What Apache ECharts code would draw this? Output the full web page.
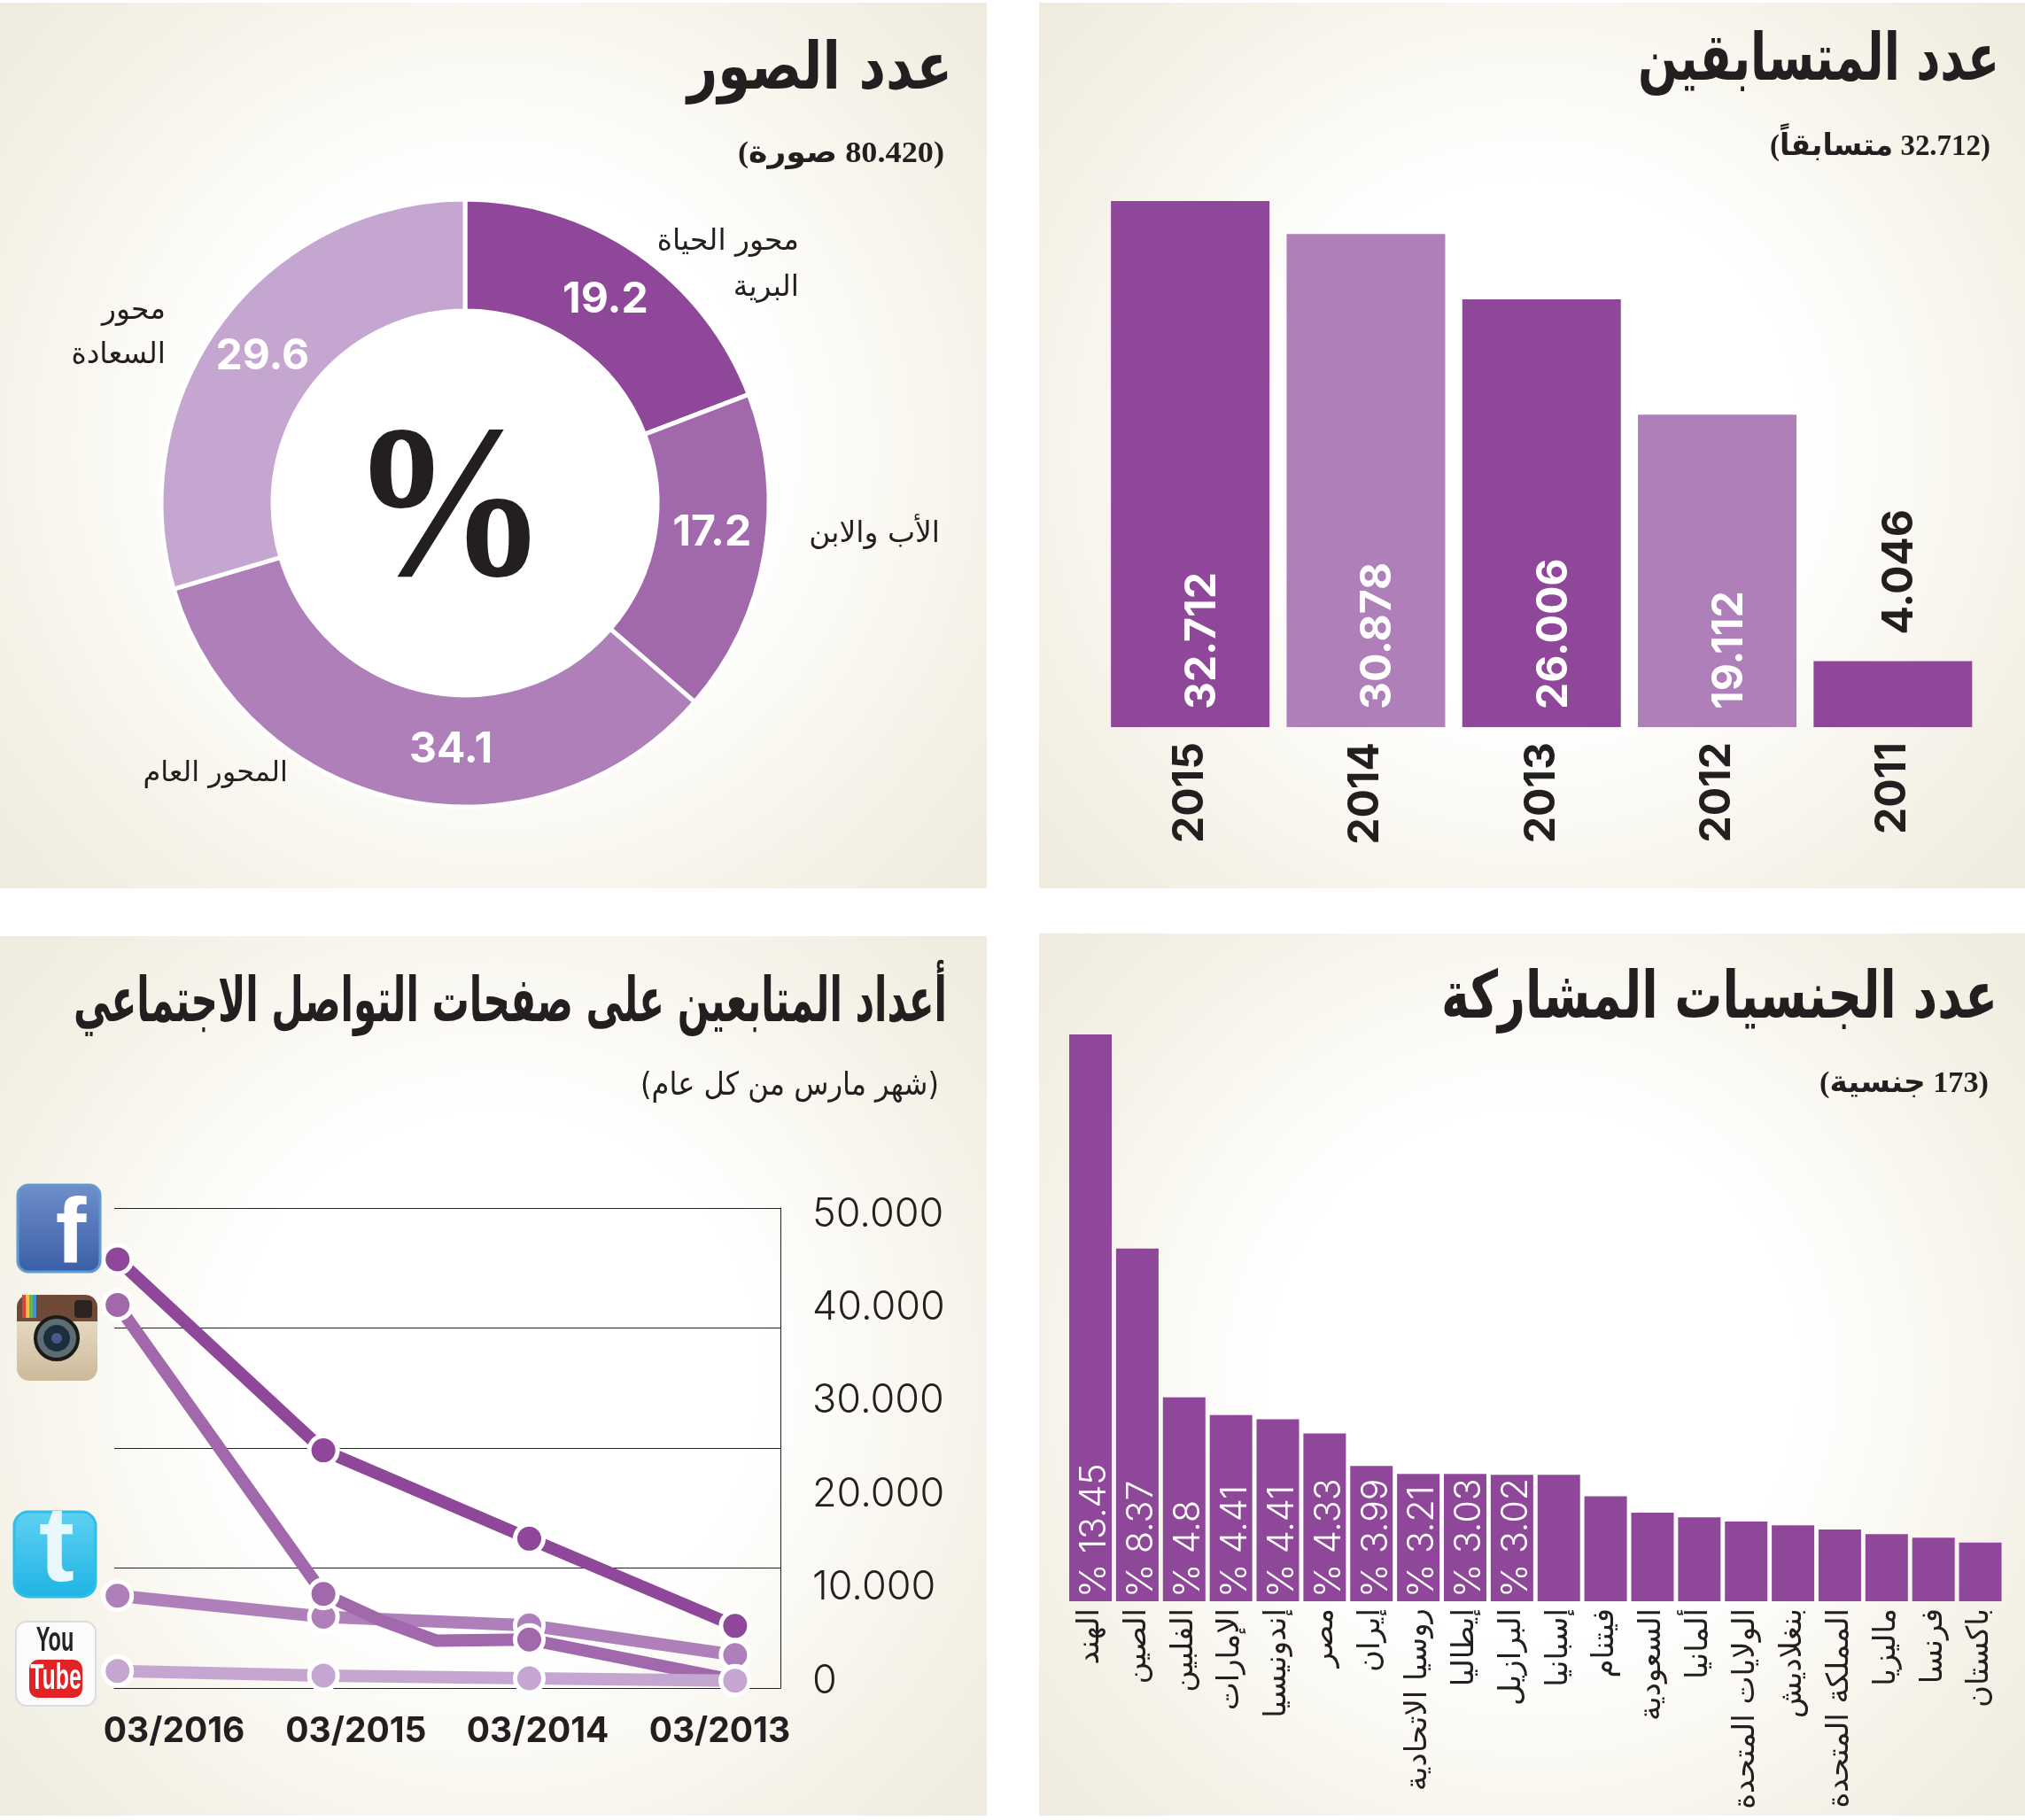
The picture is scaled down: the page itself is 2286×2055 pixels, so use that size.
<!DOCTYPE html>
<html><head><meta charset="utf-8">
<script src="https://cdn.jsdelivr.net/npm/echarts@6/dist/echarts.min.js"></script>
<style>html,body{margin:0;padding:0;background:#fff}#c{width:2286px;height:2055px}</style>
</head><body><div id="c"></div>
<script>
// ---- data ----
const years = ['2015','2014','2013','2012','2011'];
const contestantBarHeights = [32712, 30660, 26600, 19420, 4100];
const contestantLabels = ['32.712','30.878','26.006','19.112','4.046'];

const countries = ['الهند','الصين','الفلبين','الإمارات','إندونيسيا','مصر','إيران','روسيا الاتحادية','إيطاليا','البرازيل','إسبانيا','فيتنام','السعودية','ألمانيا','الولايات المتحدة','بنغلاديش','المملكة المتحدة','ماليزيا','فرنسا','باكستان'];
const countryBarHeights = [13.45,8.37,4.84,4.42,4.32,3.98,3.21,3.02,3.02,3.00,3.00,2.49,2.10,1.99,1.89,1.80,1.70,1.59,1.51,1.39];
const countryLabels = ['% 13.45','% 8.37','% 4.8','% 4.41','% 4.41','% 4.33','% 3.99','% 3.21','% 3.03','% 3.02'];

const themes = ['محور الحياة البرية','الأب والابن','المحور العام','محور السعادة'];
const themeShares = [19.2,17.2,34.1,29.6];

const monthLabels = ['03/2016','03/2015','03/2014','03/2013'];
const followerTicks = ['0','10.000','20.000','30.000','40.000','50.000'];
const xYears = [2016,2015,2014,2013];
const facebook = [44650,24760,15560,6470];
const instagram = [[2016,39900],[2015,9800],[2014.73,7130],[2014.45,4930],[2014,5050],[2013,800]];
const twitter = [9620,7420,6530,3440];
const youtube = [1780,1300,1010,770];

const P1='#8f4899',P2='#a169ab',P3='#ae7fb8',P4='#c4a6d0',INK='#231f20';
const AR='"DejaVu Sans"', NUM='Inter', SUB='"Liberation Serif","DejaVu Sans"';
const rtl = s => '\u202B'+s+'\u202C';
const mctx=document.createElement('canvas').getContext('2d');

function panel(x,y,w,h){return {type:'rect',z:-10,shape:{x,y,width:w,height:h},style:{fill:new echarts.graphic.RadialGradient(.5,.5,.72,[{offset:0,color:'#ffffff'},{offset:.42,color:'#ffffff'},{offset:.72,color:'#f7f5ec'},{offset:1,color:'#efecdf'}])},silent:true};}
function txt(x,y,s,size,weight,opt){return Object.assign({type:'text',z:10,x,y,silent:true,style:{text:s,fontFamily:AR,fontSize:size,fontWeight:weight||'normal',fill:INK,align:'right',verticalAlign:'middle'}},opt||{});}
// heading narrowed to the width it occupies in the picture
function fit(s,rightX,y,size,weight,family,targetW){
  mctx.font=weight+' '+size+'px '+family;
  const w=mctx.measureText(s).width;
  const e=txt(rightX,y,s,size,weight,{scaleX:targetW/w});
  e.style.fontFamily=family;
  return e;
}
function rr(x,y,w,h,r,fill,extra){return Object.assign({type:'rect',z:10,silent:true,shape:{x,y,width:w,height:h,r},style:{fill}},extra||{});}
const lin=(a,b)=>new echarts.graphic.LinearGradient(0,0,0,1,[{offset:0,color:a},{offset:1,color:b}]);
const icoText=(x,y,s,size,fill,sx,family)=>({type:'text',z:11,x,y,scaleX:sx||1,silent:true,style:{text:s,fontFamily:family||'"Liberation Sans"',fontWeight:'bold',fontSize:size,fill,align:'center',verticalAlign:'middle'}});

const icons=[
 // facebook
 rr(20,1338,93,98,12,'#3a5ea6',{style:{fill:lin('#6f8fcb','#3a5ea6'),stroke:'#5f9ad0',lineWidth:3}}),
 icoText(80,1396,'f',104,'#fff'),
 // instagram
 rr(19,1462,91,97,14,'#e9dcc4',{style:{fill:lin('#f0e6d2','#cdb99a')}}),
 rr(19,1462,91,30,[14,14,0,0],'#6f4a38'),
 rr(25,1462,4,26,0,'#d9443c'),rr(29,1462,4,26,0,'#efc33f'),rr(33,1462,4,26,0,'#5cb85c'),rr(37,1462,4,26,0,'#4a90d9'),
 {type:'circle',z:11,silent:true,shape:{cx:64,cy:1511,r:24},style:{fill:'#5e6c74',stroke:'#1b1b1b',lineWidth:4}},
 {type:'circle',z:12,silent:true,shape:{cx:64,cy:1511,r:15},style:{fill:'#1c2d3c'}},
 {type:'circle',z:13,silent:true,shape:{cx:64,cy:1511,r:6},style:{fill:'#4a5a8c'}},
 rr(84,1468,20,20,4,'#2c2420'),
 // twitter
 rr(16,1707,92,96,16,'#1fb4e4',{style:{fill:lin('#5fd0f2','#1fb4e4'),stroke:'#2fbfe6',lineWidth:3}}),
 icoText(64,1752,'t',120,'#e8f8fd'),
 // youtube
 rr(18,1831,90,95,12,'#fbfbfb',{style:{fill:'#fbfbfb',stroke:'#dcdcdc',lineWidth:2}}),
 icoText(62,1854,'You',38,'#222',.62),
 rr(33,1874,60,43,10,'#e32226'),
 icoText(63,1896,'Tube',40,'#fff',.62)
];

const lineSeries=(name,data,color)=>({type:'line',name,xAxisIndex:2,yAxisIndex:2,data,clip:false,symbol:'circle',symbolSize:32,showSymbol:true,
  lineStyle:{color,width:14},itemStyle:{color,borderColor:'#fff',borderWidth:5},emphasis:{disabled:true}});
const pair=a=>xYears.map((y,i)=>[y,a[i]]);

const option={
 animation:false,backgroundColor:'transparent',
 graphic:{elements:[
  panel(0,3,1114,1000),panel(1173,3,1113,1000),panel(0,1057,1114,993),panel(1173,1054,1113,996),
  fit('عدد الصور',1075,81,74,'bold',AR,299),
  fit(rtl('(80.420 صورة)'),1066,174,34,'bold',SUB,233),
  fit('عدد المتسابقين',2257,71,74,'bold',AR,408),
  fit(rtl('(32.712 متسابقاً)'),2247,166,34,'bold',SUB,249),
  fit('أعداد المتابعين على صفحات التواصل الاجتماعي',1069,1135,70,'bold',AR,986),
  fit('(شهر مارس من كل عام)',1060,1227,36,'normal',AR,337),
  fit('عدد الجنسيات المشاركة',2255,1130,74,'bold',AR,628),
  fit(rtl('(173 جنسية)'),2245,1224,34,'bold',SUB,191),
  txt(902,273,'محور الحياة',33),txt(902,325,'البرية',33),
  txt(1061,603,'الأب والابن',33),txt(325,874,'المحور العام',32),
  txt(187,351,'محور',33),txt(187,401,'السعادة',33),
  {type:'text',z:10,x:507,y:585,scaleX:.91,silent:true,style:{text:'%',fontFamily:'"Liberation Serif"',fontWeight:'bold',fontSize:246,fill:INK,align:'center',verticalAlign:'middle'}},
  ...icons
 ]},
 grid:[
  {left:1244.5,width:991.5,top:227,height:594},
  {left:1204.6,width:1057.4,top:1168,height:640},
  {left:129,width:752,top:1364,height:542},
  {left:94,width:821,top:1371,height:527}
 ],
 xAxis:[
  {gridIndex:0,type:'category',data:years,axisLine:{show:false},axisTick:{show:false},
   axisLabel:{rotate:90,margin:17,fontFamily:NUM,fontWeight:'bold',fontSize:48,color:INK,padding:[0,0,8,0]}},
  {gridIndex:1,type:'category',data:countries,axisLine:{show:false},axisTick:{show:false},
   axisLabel:{rotate:90,margin:8,interval:0,fontFamily:AR,fontSize:34,color:INK,padding:[16,0,0,0]}},
  {gridIndex:2,type:'value',inverse:true,min:2012.78,max:2016.016,axisLine:{show:true,onZero:false,lineStyle:{color:'#222',width:1}},axisTick:{show:false},axisLabel:{show:false},splitLine:{show:false}},
  {gridIndex:3,type:'category',data:monthLabels,axisLine:{show:false},axisTick:{show:false},
   axisLabel:{margin:38,interval:0,fontFamily:NUM,fontWeight:'bold',fontSize:39,color:INK}}
 ],
 yAxis:[
  {gridIndex:0,type:'value',min:0,max:32712,show:false,splitLine:{show:false}},
  {gridIndex:1,type:'value',min:0,max:13.45,show:false,splitLine:{show:false}},
  {gridIndex:2,type:'value',min:0,max:50000,interval:12500,position:'right',axisLine:{show:true,lineStyle:{color:'#222',width:1}},axisTick:{show:false},axisLabel:{show:false},splitLine:{show:true,lineStyle:{color:'#222',width:1}}},
  {gridIndex:3,type:'value',min:0,max:50000,interval:10000,position:'right',axisLine:{show:false},axisTick:{show:false},splitLine:{show:false},
   axisLabel:{margin:2,align:'left',fontFamily:NUM,fontWeight:300,fontSize:45,color:INK,formatter:(v)=>followerTicks[v/10000]}}
 ],
 series:[
  {type:'bar',xAxisIndex:0,yAxisIndex:0,barWidth:179,silent:true,
   data:contestantBarHeights.map((v,i)=>({value:v,itemStyle:{color:i%2?P3:P1},
     label:i<4?{}:{position:'top',distance:30,color:INK,offset:[0,8]}})),
   label:{show:true,position:'insideBottom',distance:20,rotate:90,align:'left',verticalAlign:'middle',offset:[0,14],fontFamily:NUM,fontWeight:'bold',fontSize:48,color:'#fff',
     formatter:p=>contestantLabels[p.dataIndex]}},
  {type:'bar',xAxisIndex:1,yAxisIndex:1,barWidth:48,silent:true,itemStyle:{color:P1},data:countryBarHeights,
   label:{show:true,position:'insideBottom',distance:4,rotate:90,align:'left',verticalAlign:'middle',offset:[0,5],fontFamily:NUM,fontWeight:300,fontSize:41,color:'#fff',
     formatter:p=>countryLabels[p.dataIndex]||''}},
  {type:'pie',center:[525,568],radius:[217,343],startAngle:90,clockwise:true,silent:true,
   itemStyle:{borderColor:'#fff',borderWidth:5},
   label:{show:true,position:'inside',fontFamily:NUM,fontWeight:'bold',fontSize:48,color:'#fff',formatter:p=>p.value},
   labelLine:{show:false},
   data:themes.map((n,i)=>({name:n,value:themeShares[i],itemStyle:{color:[P1,P2,P3,P4][i]},
     label:[{offset:[-2,4]},{offset:[0,-15]},{offset:[44,2]},{offset:[-2,4]}][i]}))},
  lineSeries('Twitter',pair(twitter),P3),
  lineSeries('Instagram',instagram.map((d,i)=>(i==2||i==3)?{value:d,symbol:'none'}:{value:d}),P2),
  lineSeries('YouTube',pair(youtube),P4),
  lineSeries('Facebook',pair(facebook),P1),
  {type:'line',xAxisIndex:3,yAxisIndex:3,data:[],silent:true}
 ]
};
const chart=echarts.init(document.getElementById('c'),null,{renderer:'canvas'});
chart.setOption(option);
</script></body></html>
